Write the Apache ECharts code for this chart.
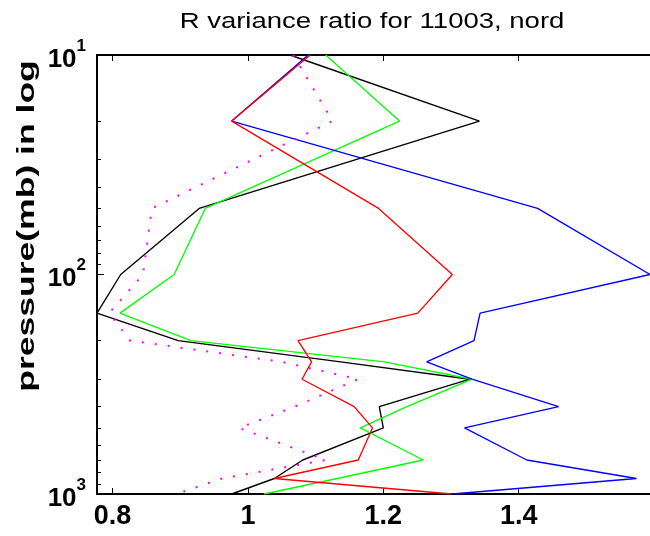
<!DOCTYPE html>
<html>
<head>
<meta charset="utf-8">
<script src="https://cdn.jsdelivr.net/npm/echarts@6/dist/echarts.min.js"></script>
<style>
  html, body { margin: 0; padding: 0; background: #fff; }
  #chart { width: 650px; height: 536px; }
</style>
</head>
<body>
<div id="chart"></div>
<script>
// Pressure levels (mb) shared by every profile
const levels = [10, 20, 50, 100, 150, 200, 250, 300, 400, 500, 700, 850, 1000];

// Variance ratio profiles
const blackRatio   = [1.062, 1.342, 0.928, 0.812, 0.777, 0.897, 1.137, 1.328, 1.194, 1.200, 1.081, 1.039, 0.976];
const greenRatio   = [1.115, 1.224, 0.937, 0.891, 0.811, 0.916, 1.202, 1.331, 1.235, 1.166, 1.259, 1.132, 1.024];
const blueRatio    = [1.089, 0.976, 1.428, 1.594, 1.343, 1.334, 1.264, 1.331, 1.459, 1.320, 1.412, 1.574, 1.302];
const redRatio     = [1.092, 0.976, 1.193, 1.302, 1.251, 1.074, 1.094, 1.080, 1.157, 1.184, 1.163, 1.039, 1.301];
const magentaRatio = [1.067, 1.125, 0.858, 0.845, 0.795, 0.826, 1.050, 1.163, 1.069, 0.987, 1.115, 0.962, 0.894];

// Axis ticks
const xTicks = [0.8, 1, 1.2, 1.4];
const yMajorTicks = [10, 100, 1000];
const yMinorTicks = [20, 30, 40, 50, 60, 70, 80, 90, 200, 300, 400, 500, 600, 700, 800, 900];
const xRange = [0.777, 1.594];
const yRange = [10, 1000];

const titleText = 'R variance ratio for 11003, nord';
const yName = 'pressure(mb) in log';

const FONT = '"Liberation Sans", Arial, Helvetica, sans-serif';

function profile(vals, color, dotted) {
  return {
    type: 'line',
    data: levels.map((p, i) => [vals[i], p]),
    showSymbol: false,
    symbol: 'none',
    clip: false,
    animation: false,
    lineStyle: dotted
      ? { color: color, width: 2, type: [2, 11] }
      : { color: color, width: 1.35 },
    itemStyle: { color: color }
  };
}

const chart = echarts.init(document.getElementById('chart'), null, { renderer: 'canvas' });

chart.setOption({
  backgroundColor: '#ffffff',
  animation: false,
  grid: { left: 97, right: 0, top: 55, bottom: 42, containLabel: false },
  graphic: [
    {
      type: 'text',
      x: 372, y: 22,
      scaleX: 1.25,
      style: {
        text: titleText,
        font: 'normal 22px ' + FONT,
        fill: '#000',
        align: 'center',
        verticalAlign: 'middle'
      }
    },
    {
      type: 'text',
      x: 27, y: 226,
      rotation: Math.PI / 2,
      scaleX: 1.48,
      style: {
        text: yName,
        font: 'bold 24px ' + FONT,
        fill: '#000',
        align: 'center',
        verticalAlign: 'middle'
      }
    }
  ],
  xAxis: [
    {
      type: 'value',
      position: 'bottom',
      min: xRange[0], max: xRange[1],
      axisLine: { show: true, onZero: false, lineStyle: { color: '#000', width: 2 } },
      axisTick: { show: true, inside: true, length: 6, customValues: xTicks, lineStyle: { color: '#000', width: 1 } },
      axisLabel: {
        show: true,
        customValues: xTicks,
        margin: 9,
        color: '#000',
        fontSize: 27,
        fontWeight: 'bold',
        fontFamily: FONT,
        formatter: v => String(Math.round(v * 10) / 10)
      },
      splitLine: { show: false }
    },
    {
      type: 'value',
      position: 'top',
      min: xRange[0], max: xRange[1],
      axisLine: { show: true, onZero: false, lineStyle: { color: '#000', width: 2 } },
      axisTick: { show: true, inside: true, length: 6, customValues: xTicks, lineStyle: { color: '#000', width: 1 } },
      axisLabel: { show: false },
      splitLine: { show: false }
    }
  ],
  yAxis: [
    {
      type: 'log',
      logBase: 10,
      position: 'left',
      min: yRange[0], max: yRange[1],
      inverse: true,
      axisLine: { show: true, onZero: false, lineStyle: { color: '#000', width: 2 } },
      axisTick: { show: true, inside: true, length: 4, customValues: yMinorTicks.concat(yMajorTicks), lineStyle: { color: '#000', width: 1 } },
      axisLabel: {
        show: true,
        customValues: yMajorTicks,
        margin: 11,
        formatter: v => '{b|10}{s|' + Math.round(Math.log10(v)) + '}',
        rich: {
          b: { fontSize: 26, fontWeight: 'bold', fontFamily: FONT, color: '#000', verticalAlign: 'bottom', padding: [9, 0, 0, 0] },
          s: { fontSize: 17, fontWeight: 'bold', fontFamily: FONT, color: '#000', verticalAlign: 'top' }
        }
      },
      splitLine: { show: false }
    },
    {
      type: 'log',
      logBase: 10,
      position: 'left',
      min: yRange[0], max: yRange[1],
      inverse: true,
      axisLine: { show: false, onZero: false },
      axisTick: { show: true, inside: true, length: 7, customValues: yMajorTicks, lineStyle: { color: '#000', width: 1 } },
      axisLabel: { show: false },
      splitLine: { show: false }
    }
  ],
  series: [
    profile(blackRatio, '#000000'),
    profile(greenRatio, '#00ff00'),
    profile(blueRatio, '#0000ff'),
    profile(redRatio, '#ff0000'),
    profile(magentaRatio, '#ff00ff', true)
  ]
});
</script>
</body>
</html>
